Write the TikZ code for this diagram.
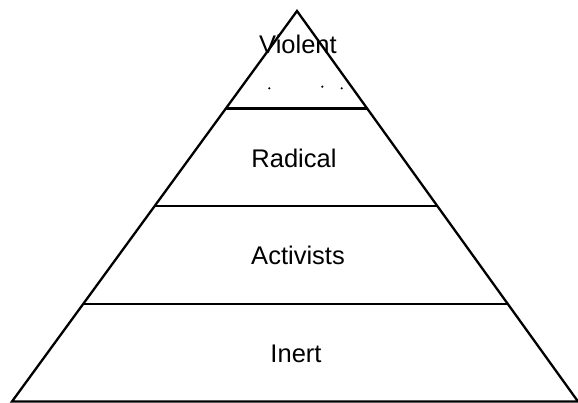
\documentclass[tikz,border=0pt]{standalone}
\usepackage{fontspec}
\setmainfont{Liberation Sans}
\usetikzlibrary{calc}
\tikzset{
  tier/.style={line width=2.3pt, color=black},
  lbl/.style={font=\fontsize{25.5}{30}\selectfont, anchor=base, inner sep=0pt},
  speck/.style={fill=black, circle, inner sep=0pt, minimum size=2.4pt}
}
\begin{document}
\begin{tikzpicture}[x=1pt,y=-1pt]
\useasboundingbox (0,0) rectangle (578,403);
\coordinate (apex) at (297,11);
\coordinate (bl) at (12,401.5);
\coordinate (br) at (578,401.5);
\draw[tier] (apex) -- (bl) -- (br) -- cycle;
\foreach \t in {0.25,0.5,0.75}
  \draw[tier] ($(apex)!\t!(bl)$) -- ($(apex)!\t!(br)$);
\node[lbl] (violent) at (298,53.3) {Violent};
\node[lbl] (radical) at (294,167.3) {Radical};
\node[lbl] (activists) at (298,264.3) {Activists};
\node[lbl] (inert) at (296,362) {Inert};
\node[speck] (d1) at (269.3,88.3) {};
\node[speck] (d2) at (322.3,86.7) {};
\node[speck] (d3) at (341.7,88.3) {};
\end{tikzpicture}
\end{document}
